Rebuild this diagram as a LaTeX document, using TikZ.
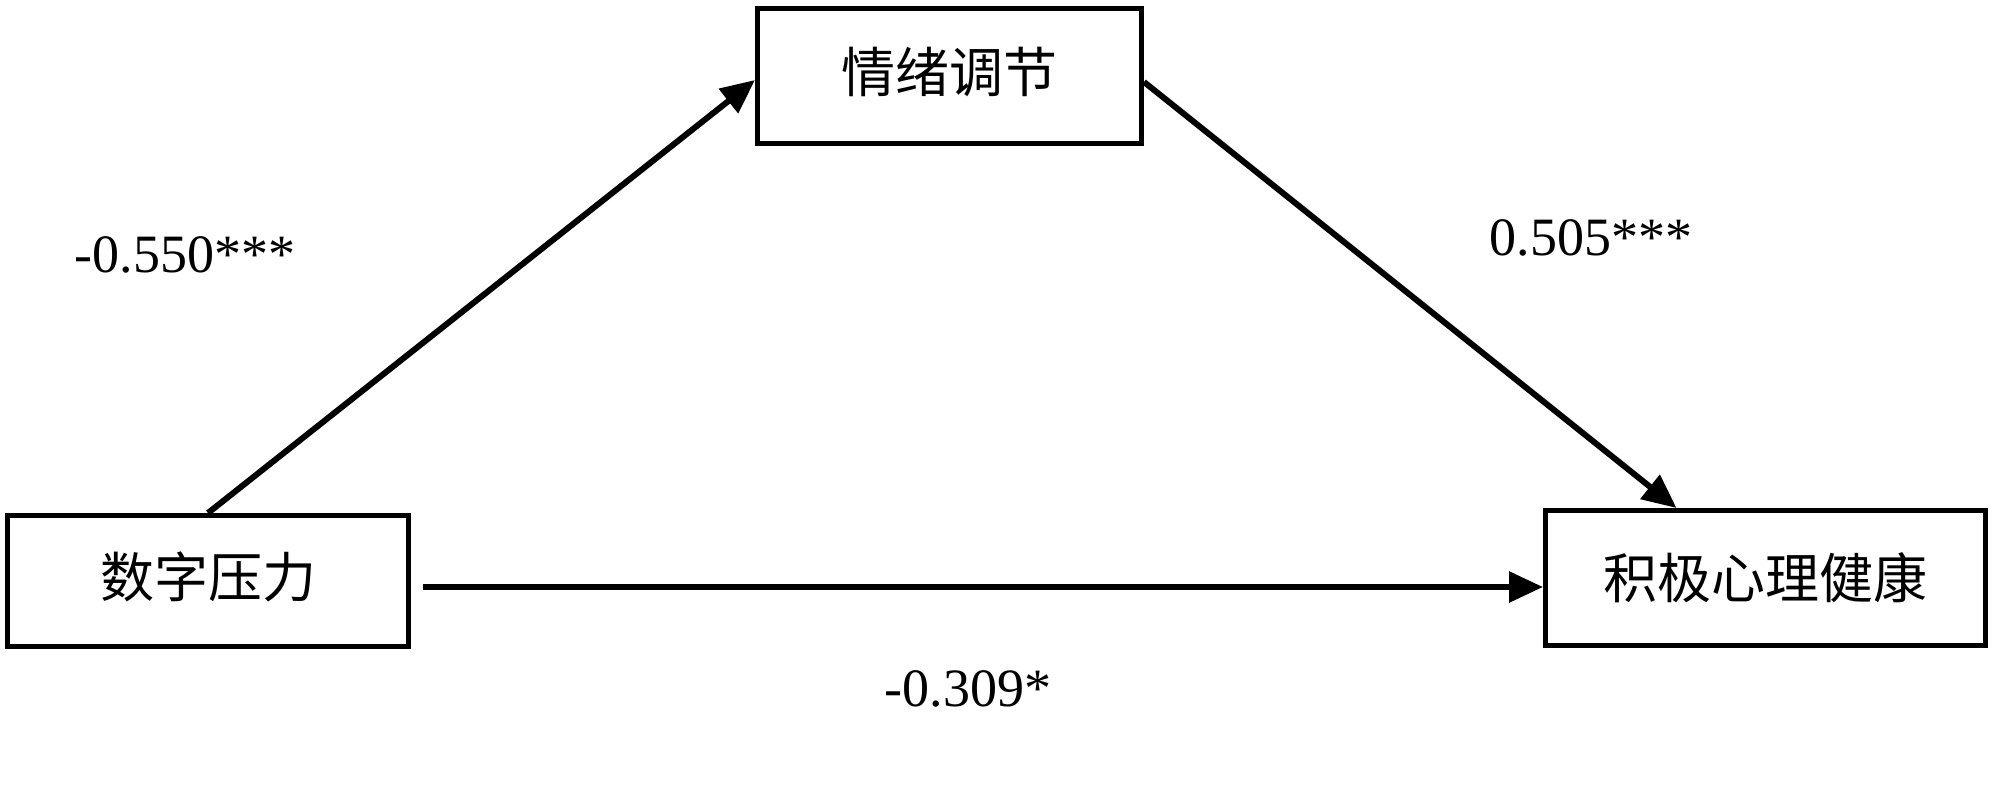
\documentclass[tikz,border=0pt]{standalone}
\usepackage{fontspec}
\setmainfont{Liberation Serif}
\newfontfamily\cjk{Noto Sans CJK SC}
\usetikzlibrary{arrows.meta,calc}
\begin{document}
\begin{tikzpicture}[x=1pt,y=-1pt,
  box/.style={draw=black,line width=5pt,rectangle,inner sep=0pt,font=\cjk\fontsize{54}{60}\selectfont},
  conn/.style={line width=6pt,-{Triangle[length=34pt,width=30pt]}},
  coef/.style={font=\fontsize{54}{60}\selectfont,inner sep=0pt}]
\useasboundingbox (0,0) rectangle (2000,803);
\fill[white] (0,0) rectangle (2000,803);
\node[box,minimum width=384pt,minimum height=135pt] (m) at (949.5,76) {\raisebox{12pt}{情绪调节}};
\node[box,minimum width=401pt,minimum height=131pt] (x) at (208,581) {\raisebox{12pt}{数字压力}};
\node[box,minimum width=440pt,minimum height=135pt] (y) at (1765.5,578) {积极心理健康};
\draw[conn] (x.north) -- ([yshift=-4pt]m.west);
\draw[conn] ([yshift=-6pt]m.east) -- ($(y.north west)!0.3!(y.north east)$);
\draw[conn,shorten <=12pt] ([yshift=-6pt]x.east) -- ([yshift=-9pt]y.west);
\node[coef] (a) at (185,255) {-0.550***};
\node[coef] (b) at (1591,238) {0.505***};
\node[coef] (c) at (968,689) {-0.309*};
\end{tikzpicture}
\end{document}
